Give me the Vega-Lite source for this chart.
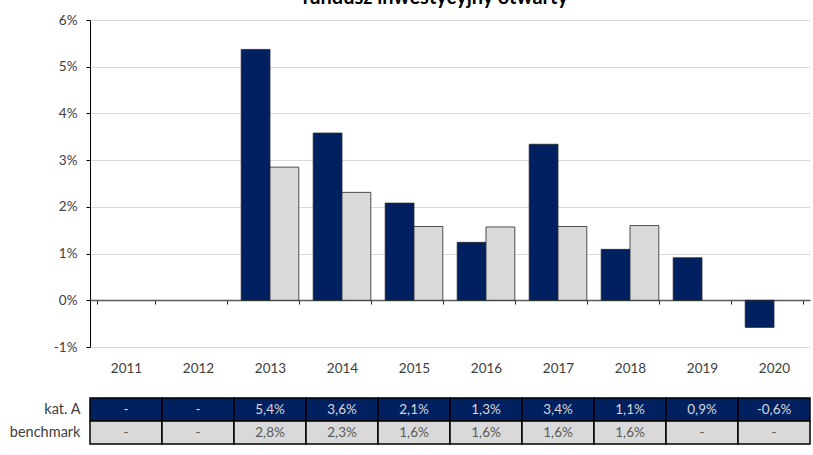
{
  "$schema": "https://vega.github.io/schema/vega-lite/v6.json",
  "padding": {"left": 9, "top": -12, "right": 2, "bottom": 5},
  "background": "white",
  "config": {"font": "Lato", "view": {"stroke": null}, "concat": {"spacing": 22}},
  "title": {"text": "fundusz inwestycyjny otwarty", "fontSize": 20, "fontWeight": "bold", "color": "black", "anchor": "middle", "offset": 5, "dx": 25, "font": "Lato"},
  "data": {
    "values": [
      {"year": 2011, "series": "kat. A", "value": null, "label": "-"},
      {"year": 2012, "series": "kat. A", "value": null, "label": "-"},
      {"year": 2013, "series": "kat. A", "value": 5.37, "label": "5,4%"},
      {"year": 2014, "series": "kat. A", "value": 3.58, "label": "3,6%"},
      {"year": 2015, "series": "kat. A", "value": 2.08, "label": "2,1%"},
      {"year": 2016, "series": "kat. A", "value": 1.24, "label": "1,3%"},
      {"year": 2017, "series": "kat. A", "value": 3.34, "label": "3,4%"},
      {"year": 2018, "series": "kat. A", "value": 1.09, "label": "1,1%"},
      {"year": 2019, "series": "kat. A", "value": 0.91, "label": "0,9%"},
      {"year": 2020, "series": "kat. A", "value": -0.58, "label": "-0,6%"},
      {"year": 2011, "series": "benchmark", "value": null, "label": "-"},
      {"year": 2012, "series": "benchmark", "value": null, "label": "-"},
      {"year": 2013, "series": "benchmark", "value": 2.85, "label": "2,8%"},
      {"year": 2014, "series": "benchmark", "value": 2.31, "label": "2,3%"},
      {"year": 2015, "series": "benchmark", "value": 1.58, "label": "1,6%"},
      {"year": 2016, "series": "benchmark", "value": 1.57, "label": "1,6%"},
      {"year": 2017, "series": "benchmark", "value": 1.58, "label": "1,6%"},
      {"year": 2018, "series": "benchmark", "value": 1.6, "label": "1,6%"},
      {"year": 2019, "series": "benchmark", "value": null, "label": "-"},
      {"year": 2020, "series": "benchmark", "value": null, "label": "-"}
    ]
  },
  "vconcat": [
    {
      "width": 720,
      "height": 327,
      "mark": {"type": "bar", "stroke": "#262626", "strokeWidth": 0.8},
      "encoding": {
        "x": {
          "field": "year", "type": "ordinal",
          "scale": {"domain": [2011, 2012, 2013, 2014, 2015, 2016, 2017, 2018, 2019, 2020], "paddingInner": 0.2, "paddingOuter": 0.1},
          "axis": {"title": null, "labelAngle": 0, "offset": -47, "domainColor": "#595959", "domainWidth": 1.5, "tickBand": "extent", "tickColor": "#262626", "tickSize": 4, "labelPadding": 57, "labelColor": "#404040", "labelFontSize": 13.5, "labelFont": "Lato"}
        },
        "xOffset": {"field": "series", "sort": ["kat. A", "benchmark"]},
        "y": {
          "field": "value", "type": "quantitative",
          "scale": {"domain": [-1, 6], "nice": false},
          "axis": {"title": null, "values": [-1, 0, 1, 2, 3, 4, 5, 6], "labelExpr": "datum.value + '%'", "domainColor": "black", "tickColor": "black", "tickSize": 4, "gridColor": "#d9d9d9", "labelColor": "#404040", "labelFontSize": 13.5, "labelPadding": 9, "labelFont": "Lato"}
        },
        "color": {"field": "series", "scale": {"domain": ["kat. A", "benchmark"], "range": ["#002060", "#d9d9d9"]}, "legend": null}
      }
    },
    {
      "width": 720,
      "height": 46,
      "encoding": {
        "x": {"field": "year", "type": "ordinal", "scale": {"paddingInner": 0, "paddingOuter": 0}, "axis": null},
        "y": {"field": "series", "type": "nominal", "sort": ["kat. A", "benchmark"], "scale": {"paddingInner": 0, "paddingOuter": 0}, "axis": {"title": null, "domain": false, "ticks": false, "labelPadding": 10, "labelFontSize": 14.5, "labelColor": "#404040", "labelFont": "Lato"}}
      },
      "layer": [
        {
          "mark": {"type": "rect", "stroke": "black", "strokeWidth": 1.5},
          "encoding": {"fill": {"condition": {"test": "datum.series === 'kat. A'", "value": "#002060"}, "value": "#d9d9d9"}}
        },
        {
          "mark": {"type": "text", "fontSize": 13.5, "font": "Lato"},
          "encoding": {"text": {"field": "label"}, "color": {"condition": {"test": "datum.series === 'kat. A'", "value": "#d9d9d9"}, "value": "#595959"}}
        }
      ]
    }
  ]
}
